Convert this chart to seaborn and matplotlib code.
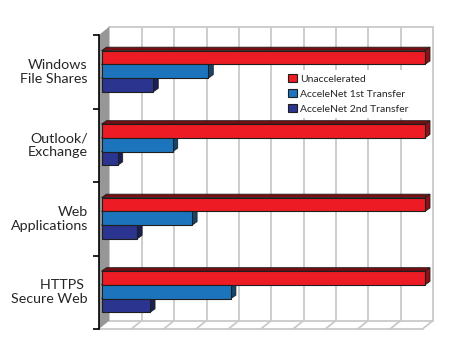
import numpy as np
import pandas as pd
import matplotlib
matplotlib.use("Agg")
import matplotlib.pyplot as plt
import matplotlib.transforms as mtransforms
import seaborn as sns
from matplotlib.patches import Polygon, Patch

# Daten
categories = ["Windows\nFile Shares", "Outlook/\nExchange", "Web\nApplications", "HTTPS \nSecure Web"]
series = ["Unaccelerated", "AcceleNet 1st Transfer", "AcceleNet 2nd Transfer"]
unaccelerated = [100, 100, 100, 100]
first_transfer = [33, 22, 28, 40]
second_transfer = [16, 5, 11, 15]
colors = ["#ed1c24", "#1c75bc", "#2b3590"]

rows = []
for s, vals in zip(series, [unaccelerated, first_transfer, second_transfer]):
    for c, v in zip(categories, vals):
        rows.append((c, s, v))
df = pd.DataFrame(rows, columns=["app", "series", "value"])

sns.set_style("white")
plt.rcParams['font.family'] = ['Lato', 'DejaVu Sans']

W, H = 462, 351
fig = plt.figure(figsize=(W / 100, H / 100), dpi=100)
ax = fig.add_axes([99 / W, (H - 329) / H, (422.5 - 99) / W, (329 - 35) / H])

sns.barplot(data=df, x="value", y="app", hue="series", order=categories, hue_order=series,
            orient="h", palette=colors, width=0.56, saturation=1,
            edgecolor="#1e1e1e", linewidth=0.8, legend=False, ax=ax, zorder=3)

ax.set_xlim(0, 100)
ax.set_ylim(3.5, -0.5)
ax.patch.set_alpha(0)


def shift(pt, dx, dy):
    x, y = ax.transData.transform(pt)
    return ax.transData.inverted().transform((x + dx, y + dy))


# Rückwand, Boden und linke Wand (3D-Effekt)
wdx, wdy = 10.5, 8.5
grid_col = "#c9c9c9"
for xv in range(10, 101, 10):
    b0 = shift((xv, 3.5), wdx, wdy)
    b1 = shift((xv, -0.5), wdx, wdy)
    ax.plot([b0[0], b1[0]], [b0[1], b1[1]], color=grid_col, lw=1.3, zorder=0.5, clip_on=False)
    ax.plot([xv, b0[0]], [3.5, b0[1]], color=grid_col, lw=1.3, zorder=0.5, clip_on=False)
tl = shift((0, -0.5), wdx, wdy)
tr = shift((100, -0.5), wdx, wdy)
bl = shift((0, 3.5), wdx, wdy)
br = shift((100, 3.5), wdx, wdy)
ax.plot([tl[0], tr[0]], [tl[1], tr[1]], color=grid_col, lw=1.3, zorder=0.5, clip_on=False)
ax.plot([bl[0], br[0]], [bl[1], br[1]], color=grid_col, lw=1.3, zorder=0.5, clip_on=False)
ax.plot([0, 100], [3.5, 3.5], color=grid_col, lw=1.3, zorder=0.5, clip_on=False)
ax.add_patch(Polygon([(0, -0.5), (0, 3.5), bl, tl], closed=True, facecolor="#979797",
                     edgecolor="none", zorder=1, clip_on=False))

# Balken etwas in die Tiefe versetzt, plus Seitenflächen
offx, offy = 2.5, 0.5
bar_trans = mtransforms.offset_copy(ax.transData, fig=fig, x=offx, y=offy, units="dots")
bdx, bdy = 5, 3.5
bars = [p for p in ax.patches if isinstance(p, matplotlib.patches.Rectangle) and p.get_width() > 0]
for p in bars:
    p.set_transform(bar_trans)
    p.set_clip_on(False)
    x0, x1 = p.get_x(), p.get_x() + p.get_width()
    yt, yb = p.get_y(), p.get_y() + p.get_height()
    fc = np.array(p.get_facecolor()[:3])
    side = tuple(fc * 0.6)
    top = tuple(fc * 0.5)
    ax.add_patch(Polygon([(x1, yt), (x1, yb), shift((x1, yb), bdx, bdy), shift((x1, yt), bdx, bdy)],
                         closed=True, facecolor=side, edgecolor="#1e1e1e", lw=0.6, zorder=2.5,
                         clip_on=False, transform=bar_trans))
    ax.add_patch(Polygon([(x0, yt), (x1, yt), shift((x1, yt), bdx, bdy), shift((x0, yt), bdx, bdy)],
                         closed=True, facecolor=top, edgecolor="#1e1e1e", lw=0.6, zorder=2.4,
                         clip_on=False, transform=bar_trans))

for sp in ["top", "right", "bottom"]:
    ax.spines[sp].set_visible(False)
ax.spines["left"].set_color("black")
ax.spines["left"].set_linewidth(1.2)
ax.spines["left"].set_zorder(4)

ax.set_xticks([])
ax.set_yticks(range(len(categories)))
ax.set_yticklabels(categories, fontsize=10.3)
for lbl in ax.get_yticklabels():
    lbl.set_verticalalignment("center")
ax.set_yticks(np.arange(-0.5, 4, 1), minor=True)
ax.tick_params(axis="y", which="major", length=0, pad=8)
ax.tick_params(axis="y", which="minor", length=4, width=1.2, color="black", left=True)
ax.set_xlabel("")
ax.set_ylabel("")

handles = [Patch(facecolor=c, edgecolor="#1e1e1e", lw=0.8) for c in colors]
fig.legend(handles, series, loc="upper left", bbox_to_anchor=(279 / W, 1 - 65 / H),
           frameon=True, facecolor="white", edgecolor="none", framealpha=1, fancybox=False,
           fontsize=7.5, handlelength=0.8, handleheight=0.8, handletextpad=0.35,
           labelspacing=0.5, borderpad=0.4)

fig.savefig("out.png", dpi=100)
